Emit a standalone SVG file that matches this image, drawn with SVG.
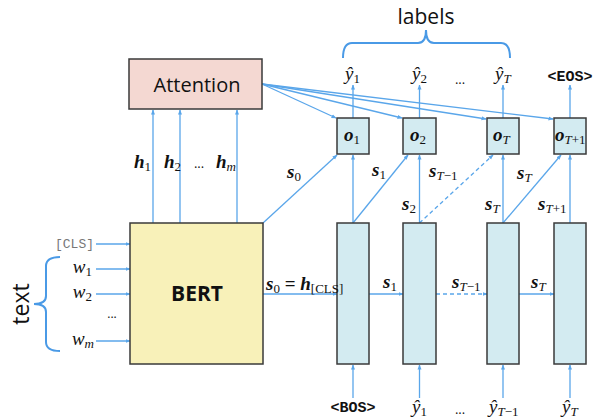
<svg xmlns="http://www.w3.org/2000/svg" width="594" height="419" viewBox="0 0 594 419">
<defs>
<marker id="ah" viewBox="0 0 10 10" refX="9" refY="5" markerWidth="5" markerHeight="5" orient="auto-start-reverse" markerUnits="userSpaceOnUse">
<path d="M0,1 L10,5 L0,9 z" fill="#5aa6ea"/>
</marker>
<style>
.ln{stroke:#5aa6ea;stroke-width:1.3;fill:none;marker-end:url(#ah)}
.dash{stroke-dasharray:4 3}
.br{stroke:#4a9ae6;stroke-width:2;fill:none}
.box{stroke:#3a3a3a;stroke-width:1.5}
.dec{fill:#d3ebf1}
.m{font-family:"Liberation Serif","DejaVu Serif",serif;font-style:italic;font-weight:bold;font-size:19px;fill:#111}
.sub{font-size:13px;font-weight:normal}
.up{font-style:normal}
.mi{font-family:"Liberation Serif","DejaVu Serif",serif;font-style:italic;font-size:19px;fill:#111}
.sans{font-family:"Open Sans","Liberation Sans",sans-serif;fill:#111}
.mono{font-family:"Liberation Mono","DejaVu Sans Mono",monospace;font-weight:bold;font-size:15px;fill:#111}
</style>
</defs>
<g id="connectors">
<line class="ln" x1="153" y1="223" x2="153" y2="110"/>
<line class="ln" x1="180" y1="223" x2="180" y2="110"/>
<line class="ln" x1="237" y1="223" x2="237" y2="110"/>
<line class="ln" x1="262" y1="84" x2="336" y2="118"/>
<line class="ln" x1="262" y1="84" x2="402" y2="118"/>
<line class="ln" x1="262" y1="84" x2="486" y2="119"/>
<line class="ln" x1="262" y1="84" x2="553" y2="119"/>
<line class="ln" x1="96" y1="244" x2="130" y2="244"/>
<line class="ln" x1="96" y1="269" x2="130" y2="269"/>
<line class="ln" x1="96" y1="294" x2="130" y2="294"/>
<line class="ln" x1="96" y1="341" x2="130" y2="341"/>
<line class="ln" x1="263" y1="294" x2="337" y2="294"/>
<line class="ln" x1="369" y1="294" x2="403" y2="294"/>
<line class="ln dash" x1="436" y1="294" x2="487" y2="294"/>
<line class="ln" x1="519" y1="294" x2="554" y2="294"/>
<line class="ln" x1="353" y1="223" x2="353" y2="155"/>
<line class="ln" x1="419.5" y1="223" x2="419.5" y2="155"/>
<line class="ln" x1="503" y1="223" x2="503" y2="155"/>
<line class="ln" x1="570" y1="223" x2="570" y2="155"/>
<line class="ln" x1="263" y1="223" x2="337" y2="155"/>
<line class="ln" x1="353" y1="223" x2="408" y2="155"/>
<line class="ln dash" x1="419.5" y1="223" x2="493" y2="155"/>
<line class="ln" x1="503" y1="223" x2="561" y2="155"/>
<line class="ln" x1="353" y1="118" x2="353" y2="85"/>
<line class="ln" x1="419.5" y1="118" x2="419.5" y2="85"/>
<line class="ln" x1="503" y1="118" x2="503" y2="85"/>
<line class="ln" x1="570" y1="118" x2="570" y2="85"/>
<line class="ln" x1="353" y1="398" x2="353" y2="365"/>
<line class="ln" x1="419.5" y1="398" x2="419.5" y2="365"/>
<line class="ln" x1="503" y1="398" x2="503" y2="365"/>
<line class="ln" x1="570" y1="398" x2="570" y2="365"/>
</g>
<g id="attention">
<rect class="box" x="129" y="59" width="133" height="50" fill="#f4d8d2"/>
<text class="sans" x="197" y="92" font-size="20" text-anchor="middle">Attention</text>
</g>
<g id="bert">
<rect class="box" x="130" y="223" width="133" height="141" fill="#f8f1b9"/>
<text class="sans" x="197" y="301" font-size="21" font-weight="bold" text-anchor="middle">BERT</text>
</g>
<g id="dec1"><rect class="box dec" x="337" y="223" width="32" height="141"/></g>
<g id="dec2"><rect class="box dec" x="403" y="223" width="33" height="141"/></g>
<g id="decT"><rect class="box dec" x="487" y="223" width="32" height="141"/></g>
<g id="decT1"><rect class="box dec" x="554" y="223" width="32" height="141"/></g>
<g id="o1"><rect class="box dec" x="337" y="118" width="32" height="36"/>
<text class="m" x="344" y="141">o<tspan class="sub up" dy="3">1</tspan></text></g>
<g id="o2"><rect class="box dec" x="403" y="118" width="33" height="36"/>
<text class="m" x="410" y="141">o<tspan class="sub up" dy="3">2</tspan></text></g>
<g id="oT"><rect class="box dec" x="487" y="118" width="32" height="36"/>
<text class="m" x="493" y="141">o<tspan class="sub" dy="3">T</tspan></text></g>
<g id="oT1"><rect class="box dec" x="554" y="118" width="32" height="36"/>
<text class="m" x="555" y="141">o<tspan class="sub" dy="3">T<tspan class="up">+1</tspan></tspan></text></g>
<g id="labels">
<path class="br" d="M343,58 Q343,43 352,43 L418,43 Q426,43 426,30 Q426,43 434,43 L501,43 Q510,43 510,58"/>
<text class="sans" x="426" y="24" font-size="21" text-anchor="middle">labels</text>
<text class="mi" x="345" y="80">ŷ<tspan class="sub up" dy="3">1</tspan></text>
<text class="mi" x="412" y="80">ŷ<tspan class="sub up" dy="3">2</tspan></text>
<text class="sans" x="460" y="84" font-size="13" text-anchor="middle">...</text>
<text class="mi" x="495" y="80">ŷ<tspan class="sub" dy="3">T</tspan></text>
<text class="mono" x="570" y="81" text-anchor="middle">&lt;EOS&gt;</text>
</g>
<g id="inputs">
<text class="mono" x="353" y="412" text-anchor="middle">&lt;BOS&gt;</text>
<text class="mi" x="412" y="413">ŷ<tspan class="sub up" dy="3">1</tspan></text>
<text class="sans" x="460" y="414" font-size="13" text-anchor="middle">...</text>
<text class="mi" x="489" y="413">ŷ<tspan class="sub" dy="3">T<tspan class="up">−1</tspan></tspan></text>
<text class="mi" x="562" y="413">ŷ<tspan class="sub" dy="3">T</tspan></text>
</g>
<g id="text-input">
<text x="94" y="248" font-family="Liberation Mono,monospace" font-size="13" fill="#777" text-anchor="end">[CLS]</text>
<text class="mi" x="92" y="273" text-anchor="end">w<tspan class="sub up" dy="3">1</tspan></text>
<text class="mi" x="92" y="298" text-anchor="end">w<tspan class="sub up" dy="3">2</tspan></text>
<text class="sans" x="112" y="318" font-size="12" text-anchor="middle">...</text>
<text class="mi" x="94" y="345" text-anchor="end">w<tspan class="sub" dy="3">m</tspan></text>
<path class="br" d="M60,257 Q46,257 46,266 L46,296 Q46,304 34,304 Q46,304 46,312 L46,342 Q46,351 60,351"/>
<text class="sans" x="22" y="304" font-size="23" text-anchor="middle" transform="rotate(-90 22 304)" dy="7">text</text>
</g>
<g id="state-labels">
<text class="m" x="134" y="168">h<tspan class="sub up" dy="3">1</tspan></text>
<text class="m" x="164" y="168">h<tspan class="sub up" dy="3">2</tspan></text>
<text class="sans" x="199" y="168" font-size="13" text-anchor="middle">...</text>
<text class="m" x="216" y="168">h<tspan class="sub" dy="3">m</tspan></text>
<text class="m" x="287" y="178">s<tspan class="sub up" dy="3">0</tspan></text>
<text class="m" x="372" y="176">s<tspan class="sub up" dy="3">1</tspan></text>
<text class="m" x="429" y="177">s<tspan class="sub" dy="3">T<tspan class="up">−1</tspan></tspan></text>
<text class="m" x="517" y="179">s<tspan class="sub" dy="3">T</tspan></text>
<text class="m" x="402" y="210">s<tspan class="sub up" dy="3">2</tspan></text>
<text class="m" x="485" y="210">s<tspan class="sub" dy="3">T</tspan></text>
<text class="m" x="538" y="210">s<tspan class="sub" dy="3">T<tspan class="up">+1</tspan></tspan></text>
<text class="m" x="266" y="290">s<tspan class="sub up" dy="3">0</tspan><tspan class="up" dy="-3"> = </tspan>h<tspan class="sub up" dy="3" font-size="10">[CLS]</tspan></text>
<text class="m" x="383" y="288">s<tspan class="sub up" dy="3">1</tspan></text>
<text class="m" x="452" y="288">s<tspan class="sub" dy="3">T<tspan class="up">−1</tspan></tspan></text>
<text class="m" x="531" y="288">s<tspan class="sub" dy="3">T</tspan></text>
</g>
</svg>
